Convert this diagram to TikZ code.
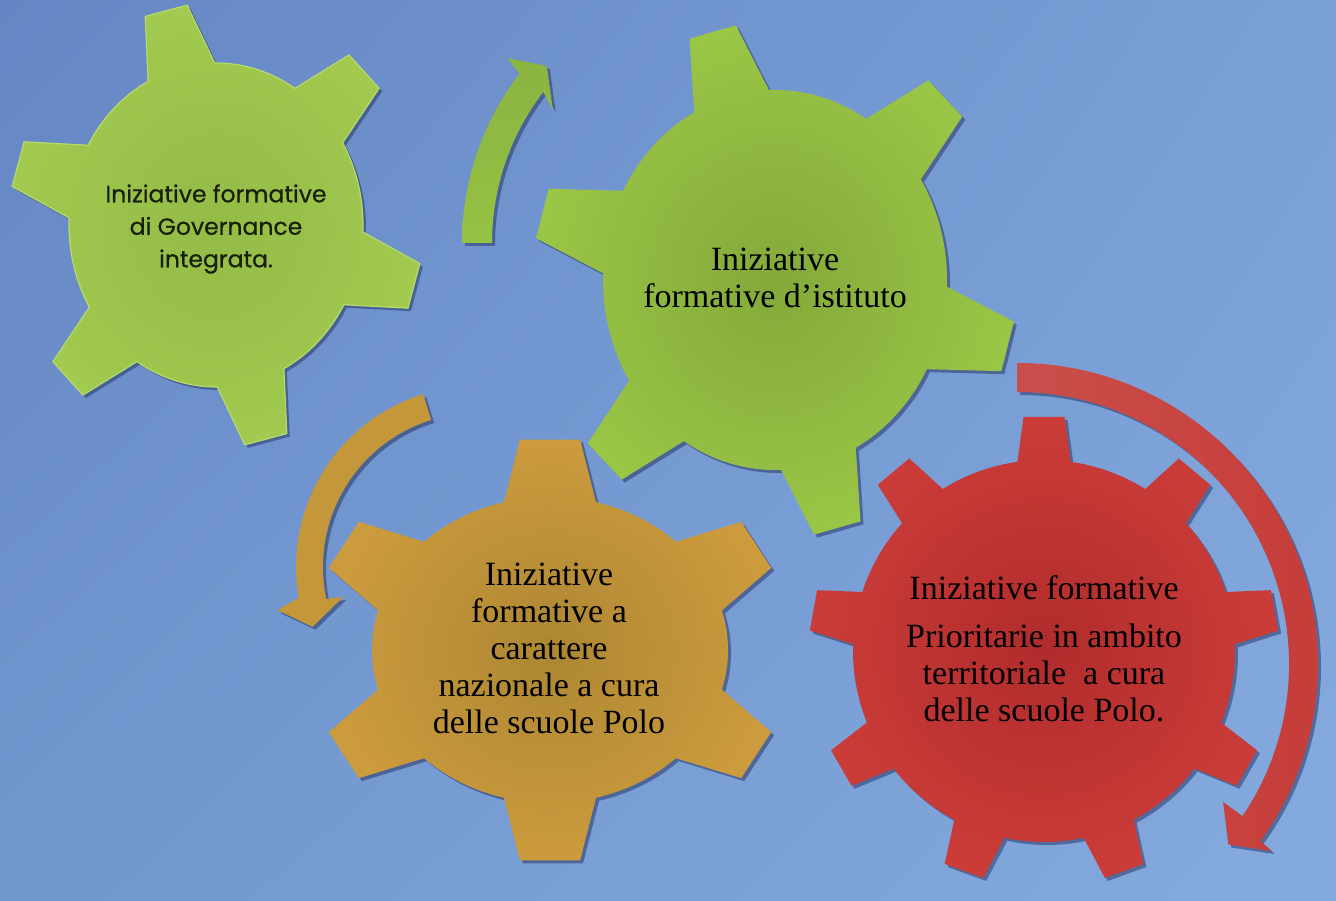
\documentclass[tikz,border=0pt]{standalone}
\usepackage{fontspec}
\setmainfont{Liberation Serif}
\newfontfamily\geofont{Poppins}[FakeBold=0.6]
\usetikzlibrary{shadows,shadings}

\definecolor{bgUL}{HTML}{6586C4}
\definecolor{bgUR}{HTML}{7AA0D7}
\definecolor{bgLL}{HTML}{7297CE}
\definecolor{bgLR}{HTML}{84AADF}
\definecolor{shadowcol}{HTML}{223060}
\definecolor{gAin}{HTML}{93BB46}
\definecolor{gAout}{HTML}{A2CA50}
\definecolor{gAedge}{HTML}{B6DA6C}
\definecolor{gBin}{HTML}{84A93A}
\definecolor{gBout}{HTML}{9AC646}
\definecolor{oin}{HTML}{AD8733}
\definecolor{oout}{HTML}{CC9B3D}
\definecolor{rin}{HTML}{B02C2C}
\definecolor{rout}{HTML}{CB3C38}
\definecolor{arrGtop}{HTML}{8AB441}
\definecolor{arrGbot}{HTML}{96C244}
\definecolor{arrO}{HTML}{C5973B}
\definecolor{arrRtop}{HTML}{C94F4C}
\definecolor{arrRbot}{HTML}{C63C38}
\definecolor{sanscol}{HTML}{18200C}

% #1 teeth, #2 first tooth angle, #3 #4 body radii, #5 #6 tip radii, #7 base half angle, #8 tip half angle
\newcommand{\gearpath}[8]{%
  ({#2-#7}:#3 and #4)
  \foreach \k [evaluate=\k as \a using #2+(\k-1)*360/#1,
               evaluate=\k as \b using #2+\k*360/#1] in {1,...,#1}{
    -- ({\a-#8}:#5 and #6) -- ({\a+#8}:#5 and #6) -- ({\a+#7}:#3 and #4)
    arc[start angle={\a+#7}, end angle={\b-#7}, x radius=#3, y radius=#4]
  } -- cycle}

\tikzset{
  shadowed/.style={drop shadow={shadow xshift=3pt,shadow yshift=-3pt,opacity=0.5,fill=shadowcol}},
  gearA/.style={shadowed, inner color=gAin, outer color=gAout, draw=gAedge, line width=1.2pt},
  gearB/.style={shadowed, inner color=gBin, outer color=gBout},
  gearO/.style={shadowed, inner color=oin, outer color=oout},
  gearR/.style={shadowed, inner color=rin, outer color=rout},
  arrowG/.style={shadowed, top color=arrGtop, bottom color=arrGbot},
  arrowO/.style={shadowed, fill=arrO},
  arrowR/.style={shadowed, left color=arrRtop, right color=arrRbot},
  geartext/.style={align=center, inner sep=0pt, text=black, font=\fontsize{34}{37}\selectfont},
  sanstext/.style={align=center, inner sep=0pt, text=sanscol, font=\geofont\fontsize{23.5}{32.5}\selectfont}
}

\begin{document}
\begin{tikzpicture}[x=1pt,y=1pt]
\useasboundingbox (0,0) rectangle (1336,901);
\shade[upper left=bgUL, upper right=bgUR, lower left=bgLL, lower right=bgLR] (0,0) rectangle (1336,901);

% gears
\begin{scope}[shift={(216,676)}]
  \shade[gearA] \gearpath{6}{104}{147}{162}{207}{222}{13.5}{6};
\end{scope}
\begin{scope}[shift={(775,621)}]
  \shade[gearB] \gearpath{6}{105}{172}{190}{242}{258}{13}{5.7};
\end{scope}
\begin{scope}[shift={(550,251)}]
  \shade[gearO] \gearpath{6}{90}{178}{153}{240}{212}{15}{7.2};
\end{scope}
\begin{scope}[shift={(1044,250)}]
  \shade[gearR] \gearpath{9}{90}{191}{191}{235}{235}{8}{5};
\end{scope}

% curved arrows
\begin{scope}[shift={(740,658)}]
  \shade[arrowG] (180:278) arc[start angle=180, end angle=142.5, radius=278]
    -- (141.5:297) -- (137.5:262) -- (144.5:230) -- (142.5:248)
    arc[start angle=142.5, end angle=180, radius=248] -- cycle;
\end{scope}
\begin{scope}[shift={(477,334)}]
  \fill[arrowO] (107.3:181) arc[start angle=107.3, end angle=189.8, radius=181]
    -- (192.2:204) -- (200:175) -- (192.6:137) -- (192:154)
    arc[start angle=192, end angle=107.3, radius=154] -- cycle;
\end{scope}
\begin{scope}[shift={(1017,237)}]
  \shade[arrowR] (90:301) arc[start angle=90, end angle=-36, radius=301]
    -- (-36.3:316) -- (-40.5:278) -- (-33.8:248) -- (-34:272)
    arc[start angle=-34, end angle=90, radius=272] -- cycle;
\end{scope}

% texts
\node[sanstext] (t1) at (216,672) {Iniziative formative\\di Governance\\integrata.};
\node[geartext] (t2) at (775,623) {Iniziative\\formative d’istituto};
\node[geartext] (t3) at (549,252.5) {Iniziative\\formative a\\carattere\\nazionale a cura\\delle scuole Polo};
\node[geartext] (t4) at (1044,252) {Iniziative formative\\[11pt]Prioritarie in ambito\\territoriale\ \ a cura\\delle scuole Polo.};
\end{tikzpicture}
\end{document}
